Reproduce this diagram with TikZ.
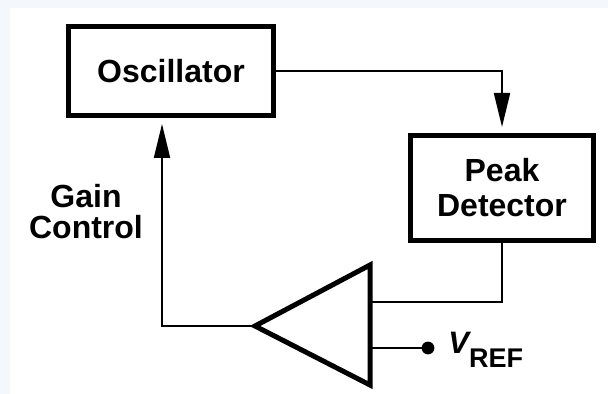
\documentclass[tikz,border=0pt]{standalone}
\usepackage{fontspec}
\setmainfont{Liberation Sans}
\usetikzlibrary{arrows.meta}
\definecolor{pageblue}{RGB}{244,248,252}
\begin{document}
\begin{tikzpicture}[x=0.5pt, y=-0.5pt, >={Triangle[length=17pt, width=8pt]},
    bloco/.style={draw, rectangle, line width=2.5pt, align=center, inner sep=0pt,
        font=\fontsize{16}{17.5}\selectfont\bfseries},
    fio/.style={line width=1pt}]

% background
\fill[pageblue] (0,0) rectangle (608,394);
\fill[white] (10,8) rectangle (608,394);

% Oscillator
\node[bloco, minimum width=102.5pt, minimum height=44.5pt] (osc) at (171,71) {Oscillator};

% Peak detector
\node[bloco, minimum width=91.5pt, minimum height=52.5pt] (peak) at (502,188) {Peak\\Detector};

% Amplifier (triangle pointing left)
\coordinate (amptip) at (255,326);
\coordinate (amptop) at (370,265);
\coordinate (ampbot) at (370,385);
\coordinate (ampin) at (370,302);
\coordinate (ampref) at (370,348);
\draw[line width=2.5pt] (amptip) -- (amptop) -- (ampbot) -- cycle;

% Oscillator -> Peak detector
\draw[fio, ->, shorten >=3pt] (osc.east) -| (peak.north);

% Peak detector -> amplifier
\draw[fio] (peak.south) |- (ampin);

% reference input
\coordinate (vref) at (428,348);
\draw[fio] (ampref) -- (vref);
\fill (vref) circle (3.2pt);
\node[anchor=base west, inner sep=0pt] (vreflbl) at ([xshift=10pt, yshift=-2.5pt]vref)
    {\fontsize{15.5}{15.5}\selectfont\bfseries\itshape V\raisebox{-7pt}{\fontsize{13.5}{13.5}\selectfont\upshape REF}};

% gain control loop
\draw[fio, ->, shorten >=3pt] (amptip) -| ([xshift=-4.5pt]osc.south);
\node[align=center, inner sep=0pt, font=\fontsize{16}{15.5}\selectfont\bfseries] (gain) at (86,212) {Gain\\Control};
\end{tikzpicture}
\end{document}
